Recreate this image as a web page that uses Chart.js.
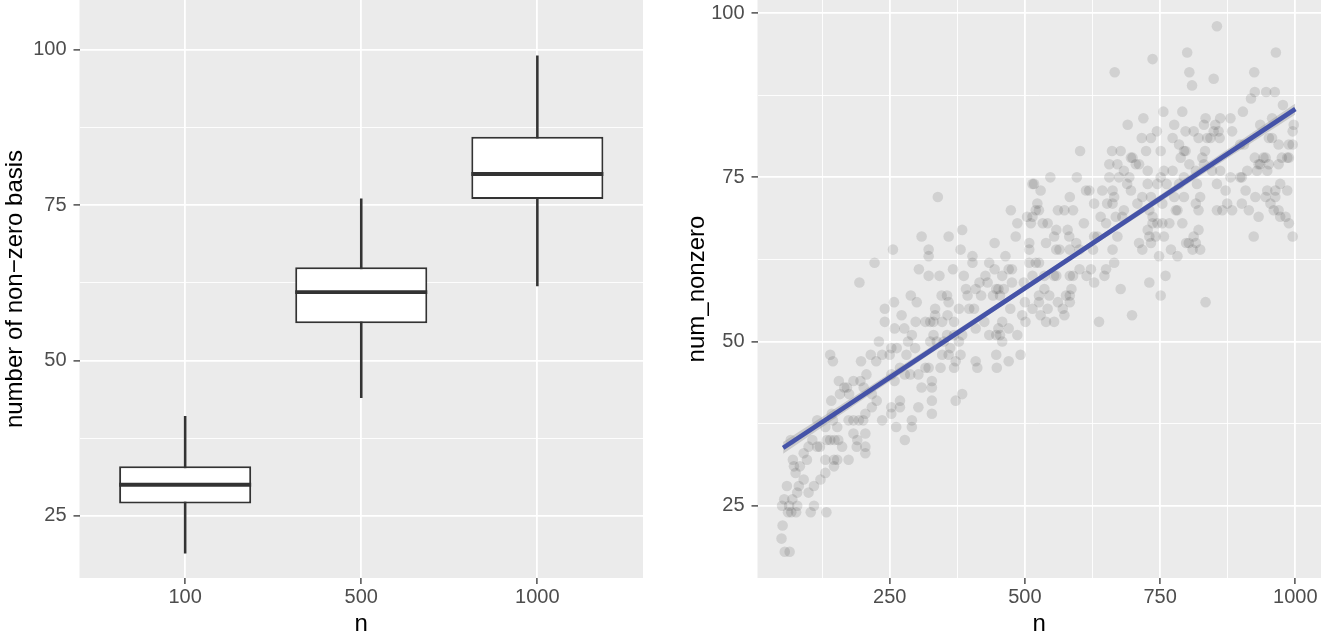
<!DOCTYPE html>
<html>
<head>
<meta charset="utf-8">
<script src="https://cdn.jsdelivr.net/npm/chart.js@4.4.1/dist/chart.umd.min.js"></script>
<style>
  html, body { margin: 0; padding: 0; background: #ffffff; }
  #wrap { position: relative; width: 1321px; height: 642px; overflow: hidden; }
  #boxCanvas { position: absolute; left: 0; top: 0; }
  #scatterCanvas { position: absolute; left: 660px; top: 0; }
</style>
</head>
<body>
<div id="wrap">
  <canvas id="boxCanvas" width="660" height="642"></canvas>
  <canvas id="scatterCanvas" width="661" height="642"></canvas>
</div>
<script>
// --- left panel: box summary per n ---
const boxCats = ['100', '500', '1000'];
const boxLow = [19, 44, 62];
const boxQ1 = [27, 56, 76];
const boxMedian = [30, 61, 80];
const boxQ3 = [33, 65, 86];
const boxHigh = [41, 76, 99];

// --- right panel: raw points (n, num_nonzero) ---
const pointN = [
  230,140,145,197,215,225,236,207,156,166,171,183,196,158,175,142,202,217,226,205,
  217,143,116,145,153,174,183,193,201,236,131,67,107,121,134,140,148,155,162,183,
  190,205,189,205,205,116,100,71,91,97,73,84,131,147,153,174,147,131,76,91,
  82,122,110,60,100,79,55,70,64,51,79,110,62,68,77,104,133,52,50,56,
  65,194,222,339,
  309,359,384,256,322,322,381,403,444,403,304,367,322,342,387,434,444,427,431,416,
  409,419,391,394,447,441,289,346,356,359,258,300,241,378,334,397,406,272,334,357,
  241,298,316,325,331,347,369,259,277,291,331,356,369,384,409,425,434,447,253,263,
  284,297,325,337,350,362,378,250,281,347,359,381,409,412,447,269,316,322,344,369,
  372,253,278,288,303,259,309,328,328,253,253,269,269,303,328,328,372,384,262,291,
  291,278,
  602,514,517,547,596,529,583,613,474,523,520,526,514,504,561,573,589,511,533,542,
  486,609,558,554,579,582,483,539,508,595,558,564,508,583,601,464,626,508,520,526,
  476,470,554,558,514,536,583,589,614,601,458,476,498,536,526,451,461,454,545,576,
  586,583,583,570,561,526,500,473,514,529,542,573,495,501,539,554,458,451,454,470,
  486,458,470,448,492,
  736,666,800,804,809,756,791,690,719,776,744,797,716,733,773,785,661,677,724,751,
  794,797,788,696,699,705,711,656,671,727,757,773,804,816,683,693,656,674,727,745,
  762,751,689,696,785,794,619,643,662,665,717,733,776,794,628,652,662,708,754,782,
  779,816,683,730,736,640,650,668,680,736,745,754,767,791,727,730,634,628,671,742,
  757,798,711,717,733,662,770,782,810,816,748,665,650,647,622,628,730,760,677,751,
  637,698,
  855,964,924,849,918,925,946,962,977,903,861,880,834,831,852,858,849,812,883,935,
  957,997,995,821,837,843,860,951,957,898,905,969,988,995,833,925,941,945,975,985,
  988,828,831,932,935,951,969,861,846,911,929,948,818,855,871,880,898,901,908,926,
  948,963,972,985,824,821,855,865,883,874,901,914,945,954,963,960,969,972,982,932,
  988,821,923,995,812,803,824,834
];
const pointNonzero = [
  50,48,47,47,48,47,48,45,44,43,43,44,44,42,42,41,43,42,41,39,
  40,39,38,38,37,38,38,38,38,38,37,35,35,34,35,35,35,35,34,36,
  35,36,34,34,33,34,34,32,33,32,31,31,32,32,32,32,31,30,30,29,
  28,29,28,28,27,27,26,26,25,25,25,25,24,24,24,24,24,22,20,18,
  18,59,62,72,
  66,66,67,64,64,63,64,63,65,62,61,61,60,60,60,62,61,60,59,59,
  58,57,58,57,58,57,57,57,57,56,56,56,55,55,55,55,55,54,54,54,
  53,53,53,53,53,53,53,52,52,51,51,51,51,51,52,53,51,51,49,49,
  50,49,50,50,50,49,50,48,48,48,48,48,47,46,48,46,46,46,46,46,
  47,45,45,45,45,44,43,43,44,40,39,41,40,40,41,39,41,42,37,38,
  37,35,
  79,74,74,75,75,73,72,73,70,71,70,70,69,69,70,70,70,68,68,68,
  68,68,67,66,67,66,66,65,65,65,64,64,64,64,64,63,64,62,62,62,
  61,61,60,60,60,60,60,60,60,61,60,59,59,58,57,58,58,57,57,57,
  58,56,57,55,56,56,56,55,55,54,55,54,54,53,53,53,53,52,51,52,
  51,50,47,46,48,
  93,91,94,91,89,85,85,83,84,83,82,82,81,81,81,80,79,79,79,79,
  79,79,78,78,78,77,77,77,77,76,76,76,77,76,76,75,75,75,74,74,
  74,75,74,73,74,75,73,73,73,72,72,72,72,72,71,71,71,71,71,70,
  70,71,70,70,69,69,68,69,69,68,68,68,68,68,67,66,66,66,66,66,
  66,65,65,64,65,64,64,63,64,65,63,62,61,60,61,59,59,60,58,57,
  53,54,
  98,94,91,90,87,88,88,88,86,85,84,84,84,83,83,82,82,82,82,83,
  84,83,82,81,81,81,81,81,81,80,80,80,80,80,79,78,78,78,78,78,
  78,78,77,77,77,77,77,76,76,76,76,76,74,74,73,75,75,75,73,72,
  73,73,74,73,72,70,70,70,70,71,71,70,72,71,72,70,70,69,69,69,
  68,67,66,66,66,65,64,56
];

// --- right panel: linear fit and its confidence band ---
const fitN = [53, 290, 527, 763, 1000];
const fitY = [33.8, 46.7, 59.6, 72.5, 85.4];
const fitUpper = [34.7, 47.25, 60.0, 73.05, 86.25];
const fitLower = [32.9, 46.15, 59.2, 71.95, 84.55];

// tick positions (major get labels, minor only grid)
const yMajor = [25, 50, 75, 100];
const yAll = [25, 37.5, 50, 62.5, 75, 87.5, 100];
const nMajor = [250, 500, 750, 1000];
const nAll = [125, 250, 375, 500, 625, 750, 875, 1000];
const boxPos = [1, 2, 3];

const FONT = "'Liberation Sans', Arial, Helvetica, sans-serif";
const tickFont = { family: FONT, size: 20 };
const titleFont = { family: FONT, size: 24 };

// grey ggplot panel behind the grid
const panelBg = {
  id: 'panelBg',
  beforeDraw(chart) {
    const { ctx, chartArea: a } = chart;
    ctx.save();
    ctx.fillStyle = '#EBEBEB';
    ctx.fillRect(a.left, a.top, a.right - a.left, a.bottom - a.top);
    ctx.restore();
  }
};

function fixedTicks(values) {
  return scale => { scale.ticks = values.map(v => ({ value: v })); };
}
function isMajor(major, ctx) {
  return ctx.tick && major.includes(ctx.tick.value);
}
function gridOpts(major) {
  return {
    color: '#FFFFFF',
    lineWidth: ctx => isMajor(major, ctx) ? 1.8 : 0.9,
    tickColor: ctx => isMajor(major, ctx) ? '#333333' : 'rgba(0,0,0,0)',
    tickLength: 6,
    tickWidth: 1.3,
    offset: false
  };
}
function yAxis(min, max, width, title, titlePad) {
  return {
    type: 'linear', min: min, max: max,
    afterBuildTicks: fixedTicks(yAll),
    afterFit: s => { s.width = width; s.paddingTop = 0; s.paddingBottom = 0; },
    grid: gridOpts(yMajor),
    border: { display: false },
    ticks: {
      autoSkip: false, font: tickFont, color: '#4D4D4D', padding: 7,
      callback: v => yMajor.includes(v) ? String(v) : ''
    },
    title: { display: true, text: title, font: titleFont, color: '#000000', padding: { top: titlePad, bottom: 0 } }
  };
}
function xAxis(min, max, ticks, major, label) {
  return {
    type: 'linear', min: min, max: max, offset: false,
    afterBuildTicks: fixedTicks(ticks),
    afterFit: s => { s.height = 64; s.paddingLeft = 0; s.paddingRight = 0; },
    grid: gridOpts(major),
    border: { display: false },
    ticks: { autoSkip: false, maxRotation: 0, minRotation: 0, font: tickFont, color: '#4D4D4D', padding: 1.5, callback: label },
    title: { display: true, text: 'n', font: titleFont, color: '#000000', padding: { top: 0, bottom: 3 } }
  };
}

const common = {
  responsive: false,
  devicePixelRatio: 1,
  animation: false,
  events: [],
  plugins: { legend: { display: false }, tooltip: { enabled: false } }
};

// --- left chart: boxplot built from floating bars ---
new Chart(document.getElementById('boxCanvas'), {
  type: 'bar',
  data: {
    datasets: [
      {
        type: 'line', order: 1, showLine: false,
        data: boxPos.map((x, i) => ({ x: x, y: boxMedian[i] })),
        pointStyle: 'line', pointRadius: 66, pointBorderWidth: 3.8,
        pointBorderColor: '#333333', pointBackgroundColor: '#333333'
      },
      {
        order: 2, grouped: false,
        data: boxPos.map((x, i) => ({ x: x, y: [boxQ1[i], boxQ3[i]] })),
        backgroundColor: '#FFFFFF', borderColor: '#333333', borderWidth: 2, borderSkipped: false,
        categoryPercentage: 1, barPercentage: 0.75
      },
      {
        order: 3, grouped: false,
        data: boxPos.map((x, i) => ({ x: x, y: [boxLow[i], boxHigh[i]] })),
        backgroundColor: '#333333', borderWidth: 0, barThickness: 1.9
      }
    ]
  },
  options: Object.assign({}, common, {
    layout: { autoPadding: false, padding: { left: 0, right: 17, top: 0, bottom: 0 } },
    scales: {
      x: xAxis(0.4, 3.6, boxPos, boxPos, v => boxCats[v - 1] || ''),
      y: yAxis(15, 108, 79.5, 'number of non\u2212zero basis', 1)
    }
  }),
  plugins: [panelBg]
});

// --- right chart: scatter + fitted line ---
new Chart(document.getElementById('scatterCanvas'), {
  type: 'scatter',
  data: {
    datasets: [
      {
        type: 'line', order: 0,
        data: fitN.map((x, i) => ({ x: x, y: fitY[i] })),
        borderColor: '#4553A8', borderWidth: 4.6, pointRadius: 0, fill: false, tension: 0
      },
      {
        type: 'line', order: 1,
        data: fitN.map((x, i) => ({ x: x, y: fitUpper[i] })),
        borderWidth: 0, pointRadius: 0, fill: '+1', backgroundColor: 'rgba(153,153,153,0.4)', tension: 0.4
      },
      {
        type: 'line', order: 1,
        data: fitN.map((x, i) => ({ x: x, y: fitLower[i] })),
        borderWidth: 0, pointRadius: 0, fill: false, tension: 0.4
      },
      {
        order: 2,
        data: pointN.map((x, i) => ({ x: x, y: pointNonzero[i] })),
        pointRadius: 5.3, backgroundColor: 'rgba(0,0,0,0.11)', borderWidth: 0
      }
    ]
  },
  options: Object.assign({}, common, {
    layout: { autoPadding: false, padding: 0 },
    scales: {
      x: xAxis(5.6, 1047.4, nAll, nMajor, v => nMajor.includes(v) ? String(v) : ''),
      y: yAxis(14, 102, 97.5, 'num_nonzero', 23)
    }
  }),
  plugins: [panelBg]
});
</script>
</body>
</html>
